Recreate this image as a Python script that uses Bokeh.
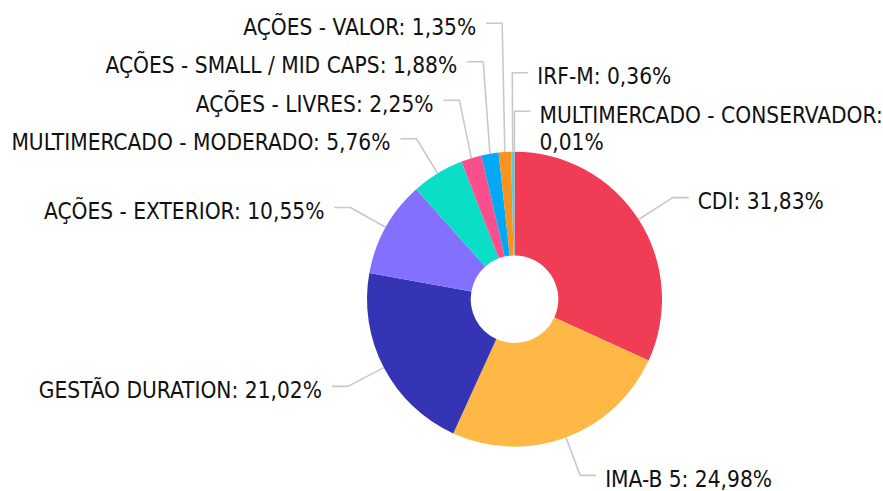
import math
from bokeh.plotting import figure
from bokeh.models import Range1d, ColumnDataSource
from bokeh.embed import file_html
from bokeh.resources import INLINE
from bokeh.core.properties import value

# ---- data ----
categories = ["CDI", "IMA-B 5", "GESTÃO DURATION", "AÇÕES - EXTERIOR",
              "MULTIMERCADO - MODERADO", "AÇÕES - LIVRES", "AÇÕES - SMALL / MID CAPS",
              "AÇÕES - VALOR", "IRF-M", "MULTIMERCADO - CONSERVADOR"]
values = [31.83, 24.98, 21.02, 10.55, 5.76, 2.25, 1.88, 1.35, 0.36, 0.01]
colors = ["#F03C55", "#FFB845", "#3434B5", "#8470FF", "#0ADEC6",
          "#FB4F8D", "#03A9F4", "#F7931E", "#4DD0E1", "#9E9E9E"]

# ---- layout ----
W, H = 883, 491
CX, CY_PX = 514.0, 298.7
R_OUT, R_IN = 147.5, 43.8
R_TICK = 188.0
SEG = 16.0
GAP_R, GAP_L = 9.0, 10.0
SPACING = 38.5
FONT = "DejaVu Sans Condensed"
FS = 22.5
LINE_H = 27
TEXT_DY = 3.5

def fmt(name, v):
    return f"{name}: " + f"{v:.2f}".replace(".", ",") + "%"

total = sum(values)
starts, ends, mids = [], [], []
acc = 0.0
for v in values:
    t0 = acc / total * 2 * math.pi
    acc += v
    t1 = acc / total * 2 * math.pi
    starts.append(t0); ends.append(t1); mids.append((t0 + t1) / 2)

cy = H - CY_PX
wedge_src = ColumnDataSource(dict(
    start=[math.pi / 2 - e for e in ends],
    end=[math.pi / 2 - s for s in starts],
    color=colors,
))

p = figure(width=W, height=H, x_range=Range1d(0, W), y_range=Range1d(0, H),
           output_backend="svg", toolbar_location=None, min_border=0)
p.axis.visible = False
p.grid.visible = False
p.outline_line_color = None
p.background_fill_color = "white"
p.border_fill_color = "white"

p.annular_wedge(x=CX, y=cy, inner_radius=R_IN, outer_radius=R_OUT,
                start_angle="start", end_angle="end", color="color",
                line_color=None, source=wedge_src)

# label layout
items = []
for i, t in enumerate(mids):
    side = "right" if math.sin(t) > -0.015 else "left"
    nat_y = CY_PX - R_TICK * math.cos(t)
    # angle measured so that larger = higher up on that side
    key = t if side == "left" else -(t if t < math.pi else t - 2 * math.pi)
    items.append(dict(i=i, t=t, side=side, y=nat_y, key=key))

for side in ("left", "right"):
    group = sorted([it for it in items if it["side"] == side], key=lambda d: d["key"])
    prev = None
    for it in group:
        if prev is not None:
            it["y"] = min(it["y"], prev - SPACING)
        prev = it["y"]

xs, ys = [], []
tl = dict(x=[], y=[], text=[])
tr = dict(x=[], y=[], text=[])
for it in items:
    t = it["t"]
    sx = CX + R_OUT * math.sin(t)
    sy = CY_PX - R_OUT * math.cos(t)
    bx = CX + R_TICK * math.sin(t)
    by = it["y"]
    ex = bx + SEG if it["side"] == "right" else bx - SEG
    xs.append([sx, bx, ex])
    ys.append([H - sy, H - by, H - by])
    label = fmt(categories[it["i"]], values[it["i"]])
    if it["side"] == "right":
        tx = ex + GAP_R
        avail = W - tx
    else:
        tx = ex - GAP_L
        avail = tx
    # greedy word wrap using an approximate glyph width
    cw = 0.55 * FS
    words = label.split(" ")
    lines, cur = [], ""
    for w_ in words:
        cand = w_ if not cur else cur + " " + w_
        if len(cand) * cw > avail and cur:
            lines.append(cur); cur = w_
        else:
            cur = cand
    lines.append(cur)
    d = tr if it["side"] == "right" else tl
    for k, ln in enumerate(lines):
        d["x"].append(tx)
        d["y"].append(H - (by + TEXT_DY + k * LINE_H))
        d["text"].append(ln)

p.multi_line(xs=xs, ys=ys, line_color="#C8C8C8", line_width=1.6)

p.text(x="x", y="y", text="text", source=ColumnDataSource(tl), text_align="right",
       text_baseline="middle", text_font=value(FONT), text_font_size=f"{FS}px",
       text_color="#111111")
p.text(x="x", y="y", text="text", source=ColumnDataSource(tr), text_align="left",
       text_baseline="middle", text_font=value(FONT), text_font_size=f"{FS}px",
       text_color="#111111")

open("out.html", "w").write(file_html(p, INLINE))
